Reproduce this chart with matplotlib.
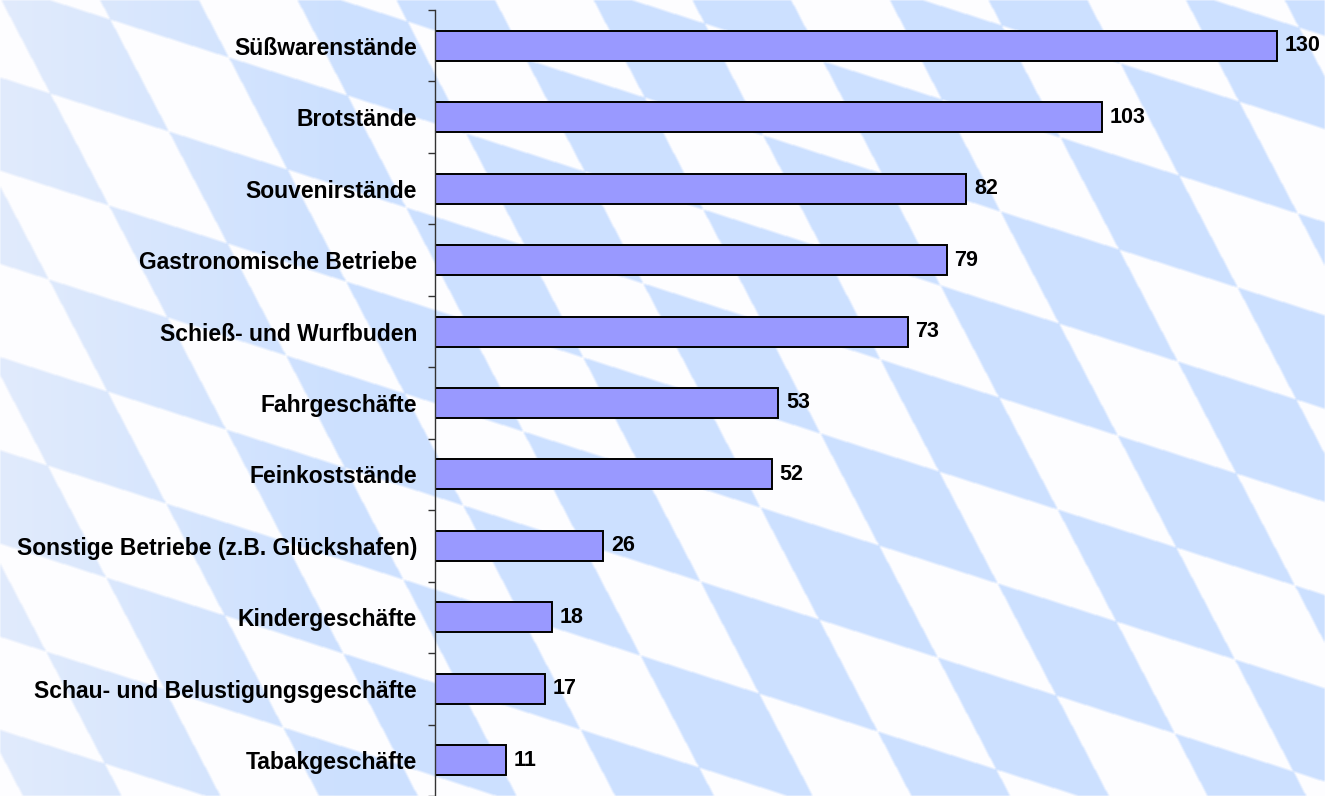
"""
Horizontal bar chart of Oktoberfest business types on a Bavarian lozenge background
"""

import numpy as np
import matplotlib
matplotlib.use('Agg')
import matplotlib.pyplot as plt

# Data
categories = [
    'Süßwarenstände',
    'Brotstände',
    'Souvenirstände',
    'Gastronomische Betriebe',
    'Schieß- und Wurfbuden',
    'Fahrgeschäfte',
    'Feinkoststände',
    'Sonstige Betriebe (z.B. Glückshafen)',
    'Kindergeschäfte',
    'Schau- und Belustigungsgeschäfte',
    'Tabakgeschäfte',
]
values = [130, 103, 82, 79, 73, 53, 52, 26, 18, 17, 11]

W, H = 1325, 796
plt.rcParams['font.family'] = ['Liberation Sans', 'DejaVu Sans']

fig = plt.figure(figsize=(W / 100, H / 100), dpi=100)

# Background: lozenge (Rauten) lattice, cells spanned by two edge vectors (pixels)
bg = fig.add_axes([0, 0, 1, 1], zorder=0)
yy, xx = np.mgrid[0:H, 0:W].astype(float)
dx = xx - 940
dy = yy - 285
ax_, ay_ = 118.6, 38.0   # shallow edge
bx_, by_ = 58.6, 112.0   # steep edge
det = ax_ * by_ - bx_ * ay_
p = (by_ * dx - bx_ * dy) / det
q = (-ay_ * dx + ax_ * dy) / det
blue = ((np.floor(p) + np.floor(q)) % 2 == 0).astype(float)
# soften edges a little
k = np.ones(3) / 3
blue = np.apply_along_axis(lambda r: np.convolve(r, k, mode='same'), 1, blue)
blue = np.apply_along_axis(lambda c: np.convolve(c, k, mode='same'), 0, blue)
# blue fades slightly towards the left edge
fade = np.clip(xx / 350.0, 0, 1)
blue_rgb = np.stack([225 - 21 * fade, 235 - 11 * fade, 252 + 3 * fade], axis=-1) / 255
white_rgb = np.array([253, 253, 255]) / 255
img = white_rgb * (1 - blue[..., None]) + blue_rgb * blue[..., None]
bg.imshow(img, interpolation='bilinear', aspect='auto')
bg.axis('off')

# Bar chart
ax = fig.add_axes([435 / W, 0.0, (W - 435) / W, (H - 10) / H], zorder=1)
ax.patch.set_alpha(0)
pos = np.arange(len(categories))
ax.barh(pos, values, height=0.42, color='#9999ff', edgecolor='black', linewidth=1.4)
for y, val in zip(pos, values):
    ax.text(val + 1.2, y, str(val), va='center', ha='left',
            fontsize=15.5, fontweight='bold', color='black')

ax.set_xlim(0, (W - 435) / ((1277 - 435) / 130))
ax.set_ylim(len(categories) - 0.5, -0.5)
ax.set_yticks(pos)
ax.set_yticklabels(categories, fontsize=16.5, fontweight='bold')
ax.set_yticks(np.arange(len(categories) + 1) - 0.5, minor=True)
ax.tick_params(axis='y', which='major', length=0, pad=13)
ax.tick_params(axis='y', which='minor', length=5, width=1, direction='out', color='#333333')
ax.set_xticks([])
for side in ['top', 'right', 'bottom']:
    ax.spines[side].set_visible(False)
ax.spines['left'].set_color('#333333')
ax.spines['left'].set_linewidth(1)

fig.savefig('out.png', dpi=100)
